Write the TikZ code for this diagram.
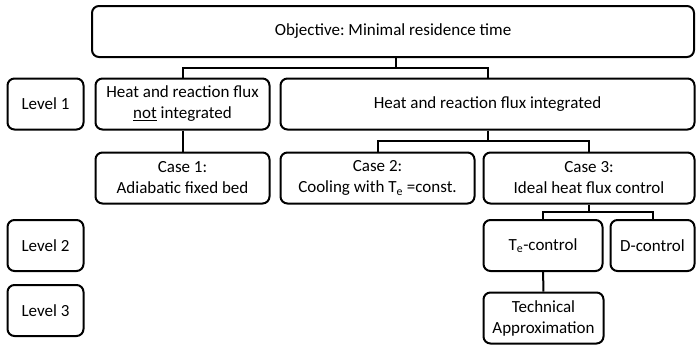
\documentclass[tikz,border=0pt]{standalone}
\usepackage{fontspec}
\setmainfont{Carlito}
\frenchspacing

\begin{document}
\begin{tikzpicture}[
x=1pt,y=-1pt,
font=\fontsize{17}{21}\selectfont,
box/.style={
rectangle,draw,rounded corners=7pt,
line width=2pt,
align=center,
inner sep=0pt,
minimum height=51pt
},
level/.style={
box,
minimum width=76pt
},
link/.style={line width=2pt}
]
\useasboundingbox (0,0) rectangle (696,346);

% =======================
% TOP
% =======================

\node[box,minimum width=602pt] (obj) at (393,31.5)
{Objective: Minimal residence time};

% =======================
% LEVEL 1
% =======================

\node[level] (lev1) at (45.5,104) {Level 1};

\node[box,minimum width=174pt] (notint) at (182.5,104)
{Heat and reaction flux \\ \underline{not} integrated};

\node[box,minimum width=414pt] (integ) at (487.5,104)
{Heat and reaction flux integrated};

% =======================
% CASES
% =======================

\node[box,minimum width=174pt] (case1) at (182.5,178)
{Case 1: \\ Adiabatic fixed bed};

\node[box,minimum width=194pt] (case2) at (377.5,178)
{Case 2: \\ Cooling with T\textsubscript{e} =const.};

\node[box,minimum width=211pt] (case3) at (589,178)
{Case 3: \\ Ideal heat flux control};

% =======================
% LEVEL 2 AND 3
% =======================

\node[level] (lev2) at (45.5,245.5) {Level 2};
\node[level] (lev3) at (45.5,310.5) {Level 3};

\node[box,minimum width=119pt] (tectrl) at (543,245.5)
{T\textsubscript{e}-control};

\node[box,minimum width=84pt] (dctrl) at (652.5,245.5)
{D-control};

\node[box,minimum width=120pt] (techapp) at (543.5,318)
{Technical \\ Approximation};

% =======================
% CONNECTORS
% =======================

\coordinate (j1) at (396,68);
\coordinate (j2) at (487.5,141);
\coordinate (j3) at (589,212);

\draw[link] (obj.south -| j1) -- (j1);
\draw[link] (notint.north) |- (j1) -| (integ.north);
\draw[link] (notint) -- (case1);

\draw[link] (integ.south) -- (j2);
\draw[link] (case2.north) |- (j2) -| (case3.north);

\draw[link] (case3.south) -- (j3);
\draw[link] (tectrl.north) |- (j3) -| (dctrl.north);
\draw[link] (tectrl) -- (techapp);

\end{tikzpicture}
\end{document}
